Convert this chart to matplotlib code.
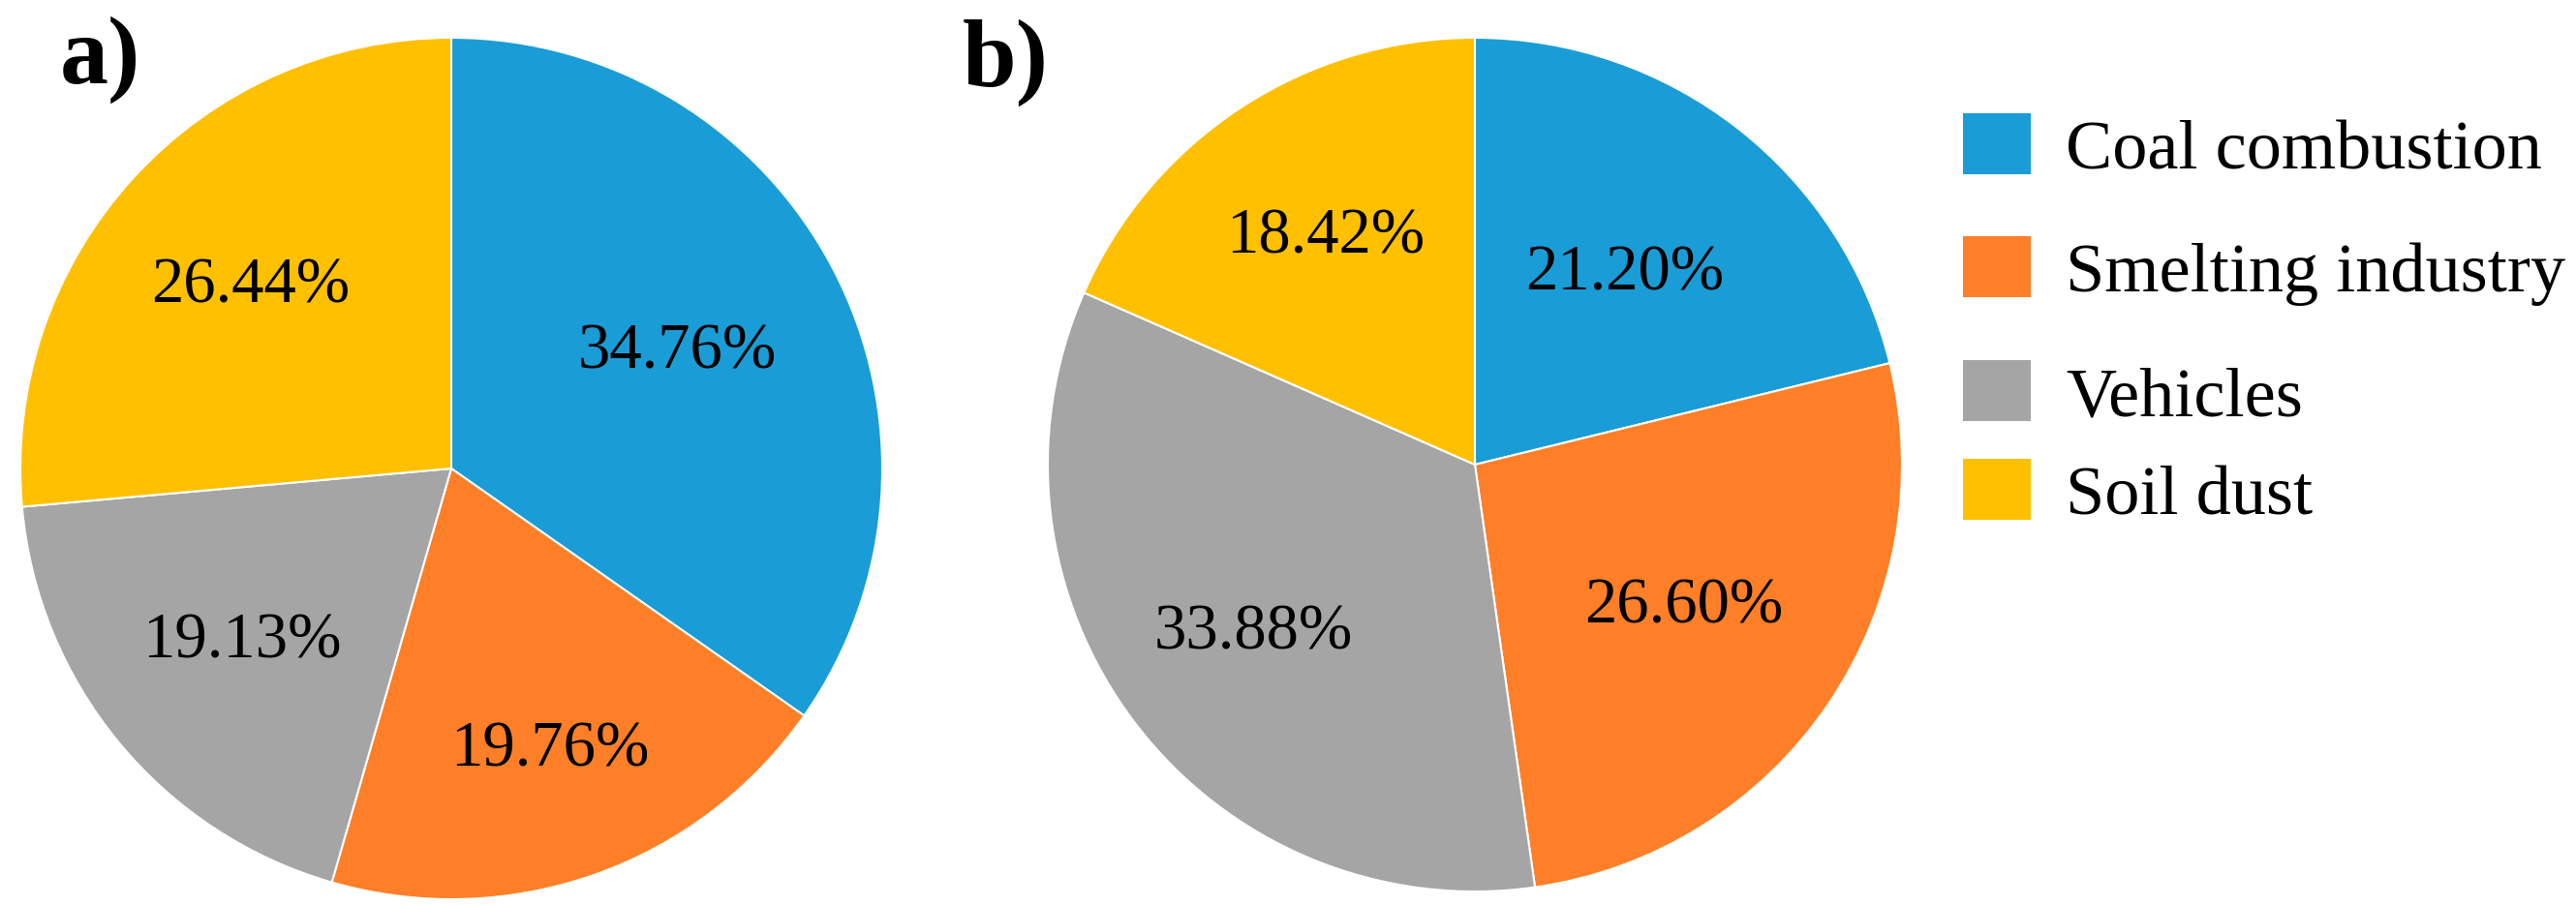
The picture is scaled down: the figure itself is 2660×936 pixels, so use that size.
import numpy as np
import matplotlib.pyplot as plt
from matplotlib.patches import Patch

# source apportionment, clockwise from 12 o'clock
sources = ['Coal combustion', 'Smelting industry', 'Vehicles', 'Soil dust']
share_a = [34.76, 19.76, 19.13, 26.44]
share_b = [21.20, 26.60, 33.88, 18.42]
panel_tags = ['a)', 'b)']

colors = ['#1A9CD7', '#FE7F27', '#A5A5A5', '#FFC000']

plt.rcParams['font.family'] = ['Liberation Serif', 'DejaVu Serif']

W, H = 2660, 937
fig = plt.figure(figsize=(W / 100, H / 100), dpi=100)


def px_axes(cx, cy, r):
    # axes box (in pixels) that holds a unit pie centred at cx, cy
    return [(cx - r) / W, (H - cy - r) / H, 2 * r / W, 2 * r / H]


def draw_pie(ax, vals, dists):
    wedges, _, autotexts = ax.pie(
        vals, colors=colors, startangle=90, counterclock=False,
        autopct=lambda p: '', pctdistance=0.62,
        wedgeprops=dict(edgecolor='white', linewidth=1.5))
    for w, t, v, d in zip(wedges, autotexts, vals, dists):
        ang = np.deg2rad((w.theta1 + w.theta2) / 2)
        t.set_position((d * np.cos(ang), d * np.sin(ang)))
        t.set_text(f'{v:.2f}%')
        t.set_fontsize(48)
        t.set_color('black')
    ax.set_xlim(-1, 1)
    ax.set_ylim(-1, 1)
    ax.set_aspect('equal')
    ax.axis('off')
    return wedges


ax_a = fig.add_axes(px_axes(466, 485, 445))
ax_b = fig.add_axes(px_axes(1523, 481, 441))
draw_pie(ax_a, share_a, [0.59, 0.69, 0.63, 0.63])
draw_pie(ax_b, share_b, [0.57, 0.59, 0.65, 0.64])

fig.text(62 / W, 1 - 86 / H, panel_tags[0], fontsize=72, fontweight='bold',
         ha='left', va='baseline')
fig.text(994 / W, 1 - 89 / H, panel_tags[1], fontsize=72, fontweight='bold',
         ha='left', va='baseline')

# legend rows are not evenly spaced in the original, so one legend per row
row_tops = [117, 244, 372, 474]
for src, c, top in zip(sources, colors, row_tops):
    fig.legend([Patch(facecolor=c, edgecolor='none')], [src], loc='upper left',
               bbox_to_anchor=(2027 / W, 1 - (top + 1) / H), frameon=False,
               fontsize=52, handlelength=0.97, handleheight=0.96,
               handletextpad=0.5, borderpad=0, borderaxespad=0)

fig.savefig('out.png', dpi=100, facecolor='white')
